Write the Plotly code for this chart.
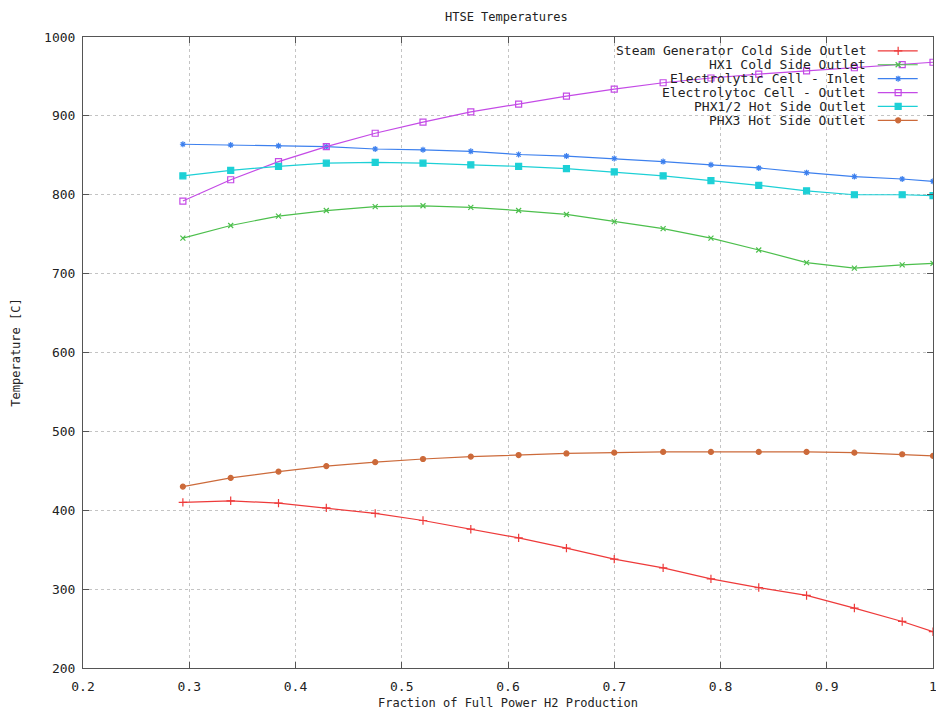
import plotly.graph_objects as go

# Fraction of full-power H2 production (x) for every series
fraction = [0.294, 0.339, 0.384, 0.429, 0.475, 0.520, 0.565, 0.610, 0.655,
            0.700, 0.746, 0.791, 0.836, 0.881, 0.926, 0.971, 1.000]

# Temperatures in degrees C
steam_gen_cold_out = [410, 412, 409, 403, 396, 387, 376, 365, 352, 338, 327,
                      313, 302, 292, 276, 259, 246]
hx1_cold_out = [745, 761, 773, 780, 785, 786, 784, 780, 775, 766, 757, 745,
                730, 714, 707, 711, 713]
cell_inlet = [864, 863, 862, 861, 858, 857, 855, 851, 849, 846, 842, 838,
              834, 828, 823, 820, 817]
cell_outlet = [792, 819, 842, 861, 878, 892, 905, 915, 925, 934, 942, 948,
               953, 957, 961, 965, 968]
phx12_hot_out = [824, 831, 836, 840, 841, 840, 838, 836, 833, 829, 824, 818,
                 812, 805, 800, 800, 799]
phx3_hot_out = [430, 441, 449, 456, 461, 465, 468, 470, 472, 473, 474, 474,
                474, 474, 473, 471, 469]

series_names = ["Steam Generator Cold Side Outlet", "HX1 Cold Side Outlet",
                "Electrolytic Cell - Inlet", "Electrolytoc Cell - Outlet",
                "PHX1/2 Hot Side Outlet", "PHX3 Hot Side Outlet"]
series_values = [steam_gen_cold_out, hx1_cold_out, cell_inlet, cell_outlet,
                 phx12_hot_out, phx3_hot_out]

x_ticks = [0.2, 0.3, 0.4, 0.5, 0.6, 0.7, 0.8, 0.9, 1.0]
x_tick_text = ["0.2", "0.3", "0.4", "0.5", "0.6", "0.7", "0.8", "0.9", "1"]
y_ticks = [200, 300, 400, 500, 600, 700, 800, 900, 1000]

styles = [
    dict(color="#ee3a3a", symbol="cross-thin", size=6),
    dict(color="#4cbf4c", symbol="x-thin", size=5),
    dict(color="#3d80ee", symbol="asterisk", size=5),
    dict(color="#c44ae6", symbol="square-open", size=6),
    dict(color="#1dd0d6", symbol="square", size=6),
    dict(color="#cc6a3a", symbol="circle", size=5),
]

MONO = "DejaVu Sans Mono"
TEXT = "#222222"

fig = go.Figure()

for name, vals, st in zip(series_names, series_values, styles):
    fig.add_trace(go.Scatter(
        x=fraction, y=vals, mode="lines+markers", name=name,
        line=dict(color=st["color"], width=1.2),
        marker=dict(symbol=st["symbol"], size=st["size"], color=st["color"],
                    line=dict(color=st["color"], width=1.2)),
        showlegend=False,
    ))

# Key: right-aligned labels with a line+marker sample on the right
key_rows = [0.978, 0.956, 0.934, 0.912, 0.890, 0.868]
for name, st, ky in zip(series_names, styles, key_rows):
    fig.add_trace(go.Scatter(
        x=[0.935, 0.982], y=[ky, ky], xaxis="x2", yaxis="y2",
        mode="lines", line=dict(color=st["color"], width=1.2),
        showlegend=False, hoverinfo="skip",
    ))
    fig.add_trace(go.Scatter(
        x=[0.959], y=[ky], xaxis="x2", yaxis="y2", mode="markers",
        marker=dict(symbol=st["symbol"], size=st["size"], color=st["color"],
                    line=dict(color=st["color"], width=1.2)),
        showlegend=False, hoverinfo="skip",
    ))
    fig.add_annotation(
        x=0.922, y=ky, xref="paper", yref="paper", text=name,
        showarrow=False, xanchor="right", yanchor="middle",
        font=dict(family=MONO, size=13, color=TEXT),
        borderpad=0,
    )

# Opaque key area hides the grid but not the curves
fig.add_shape(type="rect", xref="paper", yref="paper", x0=0.608, x1=0.999,
              y0=0.856, y1=0.999, fillcolor="white", line=dict(width=0),
              layer="between")

axis_common = dict(
    showline=True, linecolor="#555555", linewidth=1, mirror="ticks",
    ticks="inside", ticklen=6, tickcolor="#555555",
    showgrid=True, gridcolor="#c4c4c4", griddash="dot", gridwidth=1,
    zeroline=False, automargin=False,
    tickfont=dict(family=MONO, size=13, color=TEXT),
)

fig.update_layout(
    width=936, height=713,
    margin=dict(l=83, r=3, t=37, b=45),
    paper_bgcolor="white", plot_bgcolor="white",
    title=dict(text="HTSE Temperatures", x=0.541, xanchor="center",
               y=0.976, yanchor="middle",
               font=dict(family=MONO, size=12, color=TEXT)),
    xaxis=dict(range=[0.2, 1.0], tickvals=x_ticks, ticktext=x_tick_text,
               ticklabelstandoff=6, ticklabeloverflow="allow",
               title=dict(text="Fraction of Full Power H2 Production",
                          font=dict(family=MONO, size=12, color=TEXT),
                          standoff=6),
               **axis_common),
    yaxis=dict(range=[200, 1000], tickvals=y_ticks, ticklabelstandoff=4,
               title=dict(text="Temperature [C]",
                          font=dict(family=MONO, size=12, color=TEXT),
                          standoff=20),
               **axis_common),
    xaxis2=dict(range=[0, 1], overlaying="x", visible=False, fixedrange=True),
    yaxis2=dict(range=[0, 1], overlaying="y", visible=False, fixedrange=True),
)

fig.write_html("out.html")
